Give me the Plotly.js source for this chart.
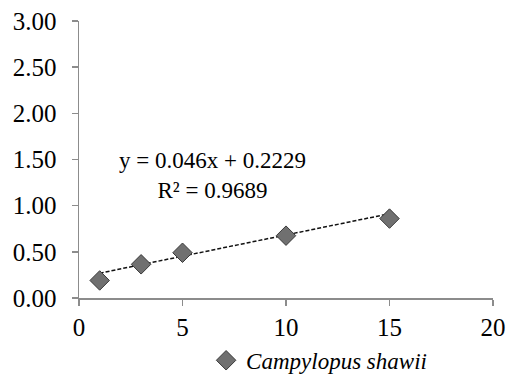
<!DOCTYPE html>
<html>
<head>
<meta charset="utf-8">
<script src="https://cdn.plot.ly/plotly-3.0.1.min.js"></script>
<style>html,body{margin:0;padding:0;background:#fff;}#chart{width:511px;height:378px;}</style>
</head>
<body>
<div id="chart"></div>
<script>
const xValues = [1, 3, 5, 10, 15];
const yValues = [0.19, 0.365, 0.49, 0.675, 0.86];
const seriesName = 'Campylopus shawii';
const slope = 0.046;
const intercept = 0.2229;
const rSquared = 0.9689;
const xTicks = [0, 5, 10, 15, 20];
const yTicks = [0, 0.5, 1, 1.5, 2, 2.5, 3];

const xMin = Math.min(...xValues), xMax = Math.max(...xValues);
const trendX = [xMin, xMax];
const trendY = trendX.map(x => slope * x + intercept);

const font = '"Liberation Serif", serif';

const traces = [
  {
    x: trendX, y: trendY, mode: 'lines', showlegend: false, hoverinfo: 'skip',
    line: {color: '#111111', width: 1.5, dash: '4px,2px'}
  },
  {
    x: xValues, y: yValues, mode: 'markers', name: seriesName,
    marker: {symbol: 'diamond', size: 15, color: '#707070', line: {color: '#3a3a3a', width: 1}}
  }
];

const layout = {
  width: 511, height: 378,
  margin: {l: 79, r: 18, t: 21, b: 80, autoexpand: false},
  paper_bgcolor: '#ffffff', plot_bgcolor: '#ffffff',
  font: {family: font, size: 24, color: '#000000'},
  showlegend: true,
  xaxis: {
    range: [0, 20], tickvals: xTicks, ticktext: xTicks.map(String),
    showgrid: false, zeroline: false, showline: true, linecolor: '#8c8c8c', linewidth: 1.5,
    ticks: 'outside', ticklen: 6, tickwidth: 1.5, tickcolor: '#8c8c8c',
    ticklabelstandoff: 0, automargin: false,
    tickfont: {family: font, size: 25, color: '#000000'}
  },
  yaxis: {
    range: [0, 3], tickvals: yTicks, ticktext: yTicks.map(v => v.toFixed(2)),
    showgrid: false, zeroline: false, showline: true, linecolor: '#8c8c8c', linewidth: 1.5,
    ticks: 'outside', ticklen: 6, tickwidth: 1.5, tickcolor: '#8c8c8c',
    ticklabelstandoff: 10, automargin: false,
    tickfont: {family: font, size: 25, color: '#000000'}
  },
  legend: {
    orientation: 'h', x: 0.307, xanchor: 'left', y: -0.225, yanchor: 'middle',
    bgcolor: 'rgba(0,0,0,0)',
    font: {family: font, size: 23, color: '#000000'}, itemwidth: 30
  },
  annotations: [{
    xref: 'x', yref: 'y', x: 6.45, y: 1.33, xanchor: 'center', yanchor: 'middle',
    text: 'y = ' + slope + 'x + ' + intercept + '<br>R² = ' + rSquared,
    showarrow: false, align: 'center',
    font: {family: font, size: 23, color: '#000000'}
  }]
};

Plotly.newPlot('chart', traces, layout, {displayModeBar: false, staticPlot: true}).then(() => {
  document.querySelectorAll('.legendtext').forEach(t => t.style.fontStyle = 'italic');
});
</script>
</body>
</html>
